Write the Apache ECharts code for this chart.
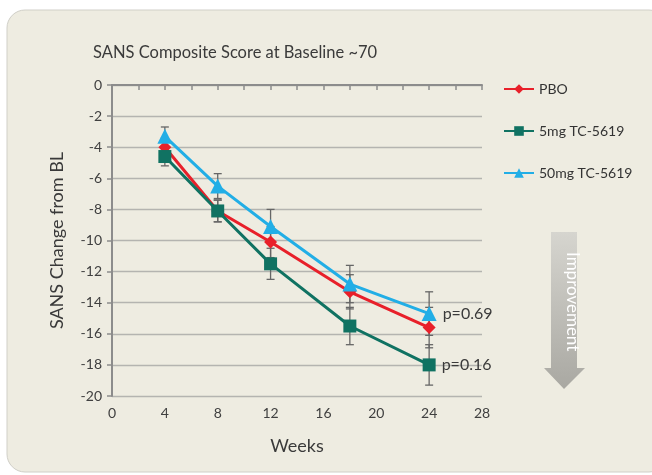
<!DOCTYPE html>
<html>
<head>
<meta charset="UTF-8">
<title>SANS Composite Score</title>
<script src="https://cdn.jsdelivr.net/npm/echarts@6/dist/echarts.min.js"></script>
<style>
  html, body { margin: 0; padding: 0; background: #ffffff; }
  #main { width: 652px; height: 475px; }
</style>
</head>
<body>
<div id="main"></div>
<script>
// data
var weeks = [4, 8, 12, 18, 24];
var pbo = [-4.0, -8.1, -10.1, -13.3, -15.6];
var mg5 = [-4.6, -8.1, -11.5, -15.5, -18.0];
var mg50 = [-3.3, -6.5, -9.1, -12.8, -14.7];
// standard errors (half length of each bar)
var pboErr = [0.6, 0.7, 1.0, 1.1, 1.3];
var mg5Err = [0.6, 0.7, 1.0, 1.2, 1.3];
var mg50Err = [0.6, 0.8, 1.1, 1.2, 1.4];
var pLabels = { mg5: 'p=0.16', mg50: 'p=0.69' };

var font = 'Lato, "Open Sans", sans-serif';

function pairs(ys) {
  return weeks.map(function (w, i) { return [w, ys[i]]; });
}
function errData(ys, es) {
  return weeks.map(function (w, i) { return [w, ys[i] - es[i], ys[i] + es[i]]; });
}
function errSeries(ys, es) {
  return {
    type: 'custom',
    z: 1,
    silent: true,
    data: errData(ys, es),
    encode: { x: 0, y: [1, 2] },
    renderItem: function (params, api) {
      var lo = api.coord([api.value(0), api.value(1)]);
      var hi = api.coord([api.value(0), api.value(2)]);
      var c = 4;
      var st = { stroke: '#666', lineWidth: 1.3 };
      return {
        type: 'group',
        children: [
          { type: 'line', shape: { x1: lo[0], y1: lo[1], x2: hi[0], y2: hi[1] }, style: st },
          { type: 'line', shape: { x1: lo[0] - c, y1: lo[1], x2: lo[0] + c, y2: lo[1] }, style: st },
          { type: 'line', shape: { x1: hi[0] - c, y1: hi[1], x2: hi[0] + c, y2: hi[1] }, style: st }
        ]
      };
    }
  };
}

var myChart = echarts.init(document.getElementById('main'));
var option = {
  backgroundColor: '#ffffff',
  textStyle: { fontFamily: font },
  graphic: [
    {
      type: 'rect', z: -10, silent: true,
      shape: { x: 7, y: 10, width: 660, height: 462, r: 18 },
      style: { fill: '#eeece1', stroke: '#d0cfc8', lineWidth: 1 }
    },
    {
      type: 'group', left: 544, top: 232, z: 10, silent: true,
      children: [
        {
          type: 'polygon',
          shape: { points: [[7, 0], [33, 0], [33, 136], [41, 136], [20, 157], [0, 136], [7, 136]] },
          style: {
            fill: new echarts.graphic.LinearGradient(0, 0, 0, 1, [
              { offset: 0, color: '#d6d5cf' },
              { offset: 1, color: '#a9a8a2' }
            ])
          }
        },
        {
          type: 'text', x: 28, y: 20, rotation: -Math.PI / 2,
          style: { text: 'Improvement', fill: '#ffffff', font: '17px ' + font, align: 'left', verticalAlign: 'middle' }
        }
      ]
    }
  ],
  title: {
    text: 'SANS Composite Score at Baseline ~70',
    left: 88, top: 39,
    textStyle: { fontSize: 16.5, fontWeight: 'normal', color: '#3a3a3a', fontFamily: font }
  },
  legend: {
    orient: 'vertical',
    left: 498, top: 77,
    itemGap: 28,
    itemWidth: 30, itemHeight: 12,
    textStyle: { fontSize: 14, color: '#333', fontFamily: font },
    data: ['PBO', '5mg TC-5619', '50mg TC-5619']
  },
  grid: { left: 112, right: 170, top: 85, bottom: 79 },
  xAxis: {
    type: 'value', min: 0, max: 28, interval: 4,
    name: 'Weeks', nameLocation: 'middle', nameGap: 41,
    nameTextStyle: { fontSize: 18, color: '#3a3a3a' },
    axisLine: { lineStyle: { color: '#8c8c8c', width: 2 } },
    axisTick: { show: true, length: 5, lineStyle: { color: '#8c8c8c', width: 1.5 } },
    minorTick: { show: true, splitNumber: 2, length: 5, lineStyle: { color: '#8c8c8c', width: 1.5 } },
    axisLabel: { fontSize: 14, color: '#404040', margin: 10 },
    splitLine: { show: false }
  },
  yAxis: {
    type: 'value', min: -20, max: 0, interval: 2,
    name: 'SANS Change from BL', nameLocation: 'middle', nameGap: 46, nameRotate: 90,
    nameTextStyle: { fontSize: 18, color: '#3a3a3a' },
    axisLine: { show: true, lineStyle: { color: '#8c8c8c', width: 2 } },
    axisTick: { show: true, length: 5, lineStyle: { color: '#8c8c8c', width: 1.5 } },
    axisLabel: { fontSize: 14, color: '#404040', margin: 10 },
    splitLine: { show: true, lineStyle: { color: '#b4b4b0', width: 1.3 } }
  },
  series: [
    errSeries(pbo, pboErr),
    errSeries(mg5, mg5Err),
    errSeries(mg50, mg50Err),
    {
      name: 'PBO', type: 'line', z: 3, data: pairs(pbo),
      symbol: 'diamond', symbolSize: 13,
      lineStyle: { color: '#e8202a', width: 3 },
      itemStyle: { color: '#e8202a' }
    },
    {
      name: '5mg TC-5619', type: 'line', z: 3, data: pairs(mg5),
      symbol: 'rect', symbolSize: 13,
      lineStyle: { color: '#107262', width: 3 },
      itemStyle: { color: '#107262' },
      label: {
        show: true, position: 'right', distance: 6,
        fontSize: 16, color: '#3a3a3a',
        formatter: function (p) { return p.dataIndex === weeks.length - 1 ? pLabels.mg5 : ''; }
      }
    },
    {
      name: '50mg TC-5619', type: 'line', z: 4, data: pairs(mg50),
      symbol: 'triangle', symbolSize: 15,
      lineStyle: { color: '#22aee6', width: 3 },
      itemStyle: { color: '#22aee6' },
      label: {
        show: true, position: 'right', distance: 6,
        fontSize: 16, color: '#3a3a3a',
        formatter: function (p) { return p.dataIndex === weeks.length - 1 ? pLabels.mg50 : ''; }
      }
    }
  ]
};
myChart.setOption(option);
</script>
</body>
</html>
